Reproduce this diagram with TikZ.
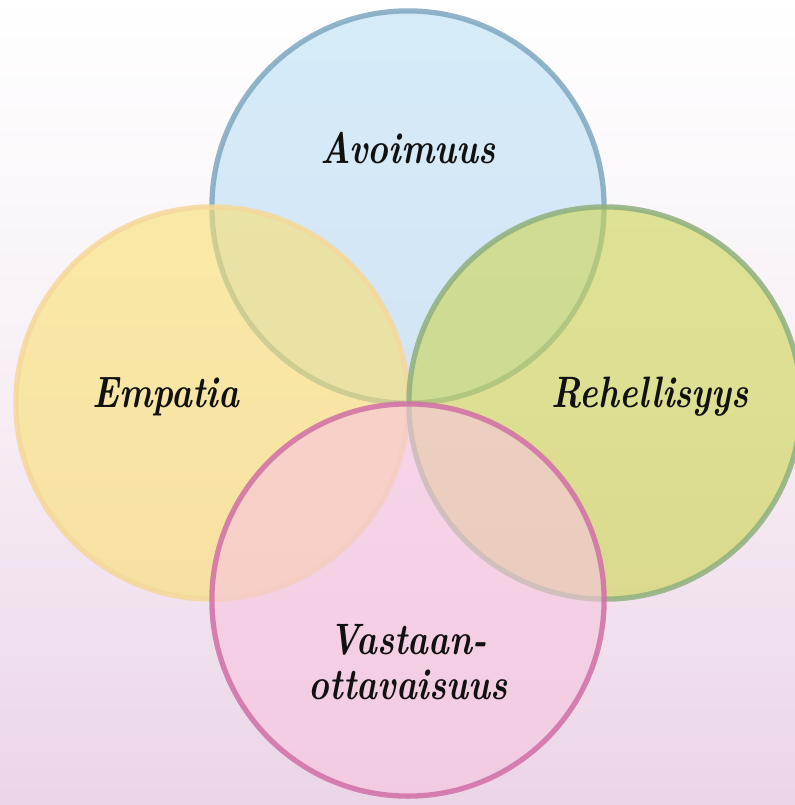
\documentclass[tikz,border=0pt]{standalone}
\usepackage{tikz}
\usetikzlibrary{positioning}
\usepackage{xcolor}
\definecolor{bgpink}{HTML}{EBD5E7}
\definecolor{skyfill}{HTML}{BBDFF5}
\definecolor{skyline}{HTML}{7FA8C0}
\definecolor{sunfill}{HTML}{FAE070}
\definecolor{sunline}{HTML}{F5D89A}
\definecolor{limefill}{HTML}{CCD550}
\definecolor{limeline}{HTML}{8FB07F}
\definecolor{rosefill}{HTML}{F7C5DF}
\definecolor{roseline}{HTML}{D16FA6}
\definecolor{txt}{HTML}{111111}
\newcommand{\narrow}[1]{\scalebox{0.8}[1]{#1}}

\begin{document}
\begin{tikzpicture}[
  x=0.01cm, y=-0.01cm,
  circ/.style={circle, minimum size=3.92cm, inner sep=0pt, line width=1.5pt, fill opacity=0.6, draw opacity=0.85},
  word/.style={font=\fontsize{12.5}{15}\selectfont\bfseries\itshape, text=txt, align=center},
]

\useasboundingbox (0,0) rectangle (795,805);
\shade[top color=white, bottom color=bgpink, middle color=white!60!bgpink] (0,0) rectangle (795,805);

\node[circ, draw=skyline, fill=skyfill] (open) at (408,207) {};
\node[circ, draw=sunline, fill=sunfill] (empathy) at (212,403) {};
\node[circ, draw=limeline, fill=limefill] (honest) at (605,403) {};
\node[circ, draw=roseline, fill=rosefill] (recept) at (408,600) {};

\node[word] (lopen) at (408,148) {\narrow{Avoimuus}};
\node[word] (lempathy) at (166,397) {\narrow{Empatia}};
\node[word] (lhonest) at (650,397) {\narrow{Rehellisyys}};
\node[word] (lrecept) at (408,662) {\narrow{Vastaan-}\\[-2pt]\narrow{ottavaisuus}};

\end{tikzpicture}
\end{document}
